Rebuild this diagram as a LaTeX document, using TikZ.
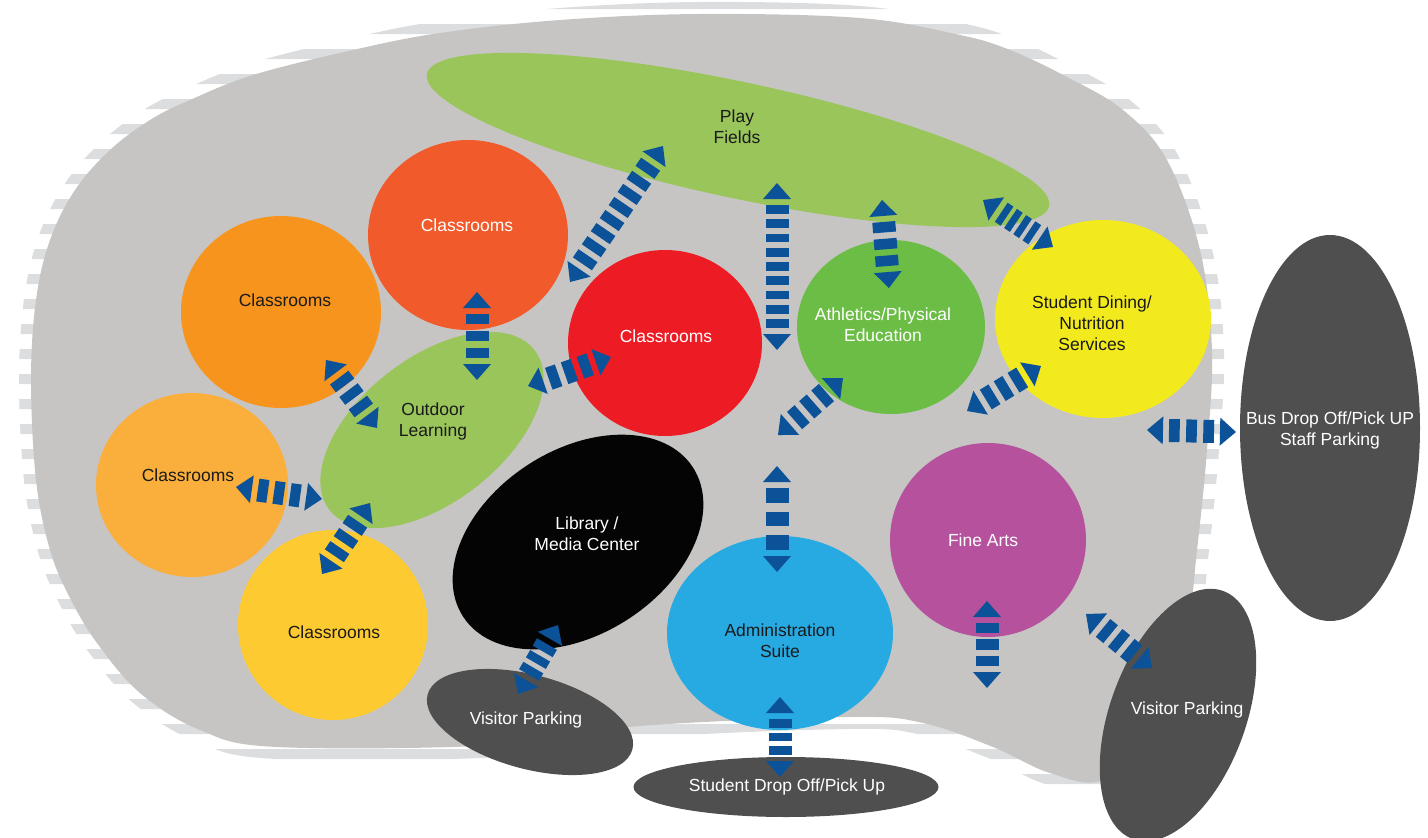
\documentclass[tikz,border=0pt]{standalone}
\usepackage{fontspec}
\setmainfont{Liberation Sans}
\usetikzlibrary{shapes.geometric,calc}
\definecolor{blobgray}{HTML}{C6C5C3}
\definecolor{shingle}{HTML}{DCDDDE}
\definecolor{fieldgreen}{HTML}{9AC55B}
\definecolor{corange}{HTML}{F7941D}
\definecolor{corangered}{HTML}{F15A2A}
\definecolor{cred}{HTML}{ED1C24}
\definecolor{clightorange}{HTML}{FAAF3C}
\definecolor{cyelloworange}{HTML}{FDCB31}
\definecolor{athgreen}{HTML}{6BBD45}
\definecolor{dinyellow}{HTML}{F2EA1D}
\definecolor{libblack}{HTML}{040404}
\definecolor{admblue}{HTML}{27AAE1}
\definecolor{fapurple}{HTML}{B5519D}
\definecolor{darkgray}{HTML}{4F4F4F}
\definecolor{arrowblue}{HTML}{0C5298}
\definecolor{txtdark}{HTML}{1A1A1A}
\tikzset{
  zone/.style={ellipse, inner sep=0pt, draw=none},
  lbl/.style={align=center, font=\fontsize{17.5}{21}\selectfont, inner sep=0pt},
  lblw/.style={lbl, text=white},
  lbld/.style={lbl, text=txtdark},
  barline/.style={draw=arrowblue, line width=23pt},
}
% double-headed dashed connector: #1 = number of bars, #2/#3 = end coordinates
\newcommand\dbarrow[3][3]{%
  \pgfpointdiff{\pgfpointanchor{#2}{center}}{\pgfpointanchor{#3}{center}}%
  \pgfgetlastxy{\dbx}{\dby}%
  \pgfmathsetmacro\dbbar{(veclen(\dbx,\dby)-44)/(#1+0.6*(#1-1))}%
  \pgfmathsetmacro\dbgap{0.6*\dbbar}%
  \fill[arrowblue] (#2) -- ($(#2)!16pt!(#3)!14pt!90:(#3)$) -- ($(#2)!16pt!(#3)!14pt!-90:(#3)$) -- cycle;
  \fill[arrowblue] (#3) -- ($(#3)!16pt!(#2)!14pt!90:(#2)$) -- ($(#3)!16pt!(#2)!14pt!-90:(#2)$) -- cycle;
  \draw[barline, dash pattern=on \dbbar pt off \dbgap pt] ($(#2)!22pt!(#3)$) -- ($(#3)!22pt!(#2)$);
}
\begin{document}
\begin{tikzpicture}[x=1pt,y=-1pt]
\useasboundingbox (0,0) rectangle (1428,838);
% campus blob with shingled rim
\def\blobpath{plot[smooth cycle, tension=0.6] coordinates {
  (353,50) (440,33) (560,20) (700,14) (860,18) (960,35) (1010,50) (1067,77)
  (1123,110) (1167,160) (1200,250) (1212,350) (1207,450) (1197,550) (1185,640)
  (1150,730) (1103,780) (1050,773) (993,747) (923,723) (850,717) (640,726)
  (500,745) (277,747) (200,730) (140,693) (97,643) (70,598) (50,550) (36,480)
  (31,380) (36,300) (50,240) (75,190) (110,150) (150,120) (190,100) (253,75)}}
\begin{scope}
  \clip \foreach \k in {-1,...,33} {(0,{24+25*\k}) rectangle (1428,{34+25*\k})};
  \draw[shingle, line width=24pt] \blobpath;
\end{scope}
\fill[blobgray] \blobpath;
% zones
\node[zone, fill=fieldgreen, minimum width=636pt, minimum height=116pt, rotate=-12] (pf) at (738,140) {};
\node[zone, fill=corange, minimum width=200pt, minimum height=192pt] (cor) at (281,312) {};
\node[zone, fill=corangered, minimum width=200pt, minimum height=190pt] (crd) at (468,235) {};
\node[zone, fill=cred, minimum width=194pt, minimum height=186pt] (cre) at (665,343) {};
\node[zone, fill=clightorange, minimum width=192pt, minimum height=184pt] (clo) at (192,485) {};
\node[zone, fill=cyelloworange, minimum width=190pt, minimum height=190pt] (cyl) at (333,625) {};
\node[zone, fill=fieldgreen, minimum width=260pt, minimum height=144pt, rotate=38] (ol) at (432,430) {};
\node[zone, fill=libblack, minimum width=274pt, minimum height=184pt, rotate=33] (lib) at (578,542) {};
\node[zone, fill=athgreen, minimum width=188pt, minimum height=174pt] (ath) at (891,327) {};
\node[zone, fill=dinyellow, minimum width=216pt, minimum height=198pt] (din) at (1103,319) {};
\node[zone, fill=admblue, minimum width=226pt, minimum height=194pt] (adm) at (780,633) {};
\node[zone, fill=fapurple, minimum width=196pt, minimum height=194pt] (fa) at (988,540) {};
\node[zone, fill=darkgray, minimum width=180pt, minimum height=386pt] (bus) at (1330,428) {};
\node[zone, fill=darkgray, minimum width=264pt, minimum height=136pt, rotate=70] (vpr) at (1178,715) {};
\node[zone, fill=darkgray, minimum width=212pt, minimum height=94pt, rotate=-15] (vpl) at (530,722) {};
\node[zone, fill=darkgray, minimum width=305pt, minimum height=60pt] (sdo) at (786,787) {};
% labels
\node[lbld] (tpf) at (737,127) {Play\\Fields};
\node[lbld] (tor) at (285,300) {Classrooms};
\node[lblw] (trd) at (467,225) {Classrooms};
\node[lblw] (tre) at (666,336) {Classrooms};
\node[lblw] (tath) at (883,325) {Athletics/Physical\\Education};
\node[lbld] (tdin) at (1092,323) {Student Dining/\\Nutrition\\Services};
\node[lbld] (tol) at (433,421) {Outdoor\\Learning};
\node[lbld] (tlo) at (188,475) {Classrooms};
\node[lblw] (tlib) at (587,534) {Library /\\Media Center};
\node[lbld] (tyl) at (334,632) {Classrooms};
\node[lblw] (tfa) at (983,540) {Fine Arts};
\node[lbld] (tadm) at (780,641) {Administration\\Suite};
\node[lblw] (tbus) at (1330,430) {Bus Drop Off/Pick UP\\Staff Parking};
\node[lblw] (tvpr) at (1187,710) {Visitor Parking};
\node[lblw] (tvpl) at (526,720) {Visitor Parking};
\node[lblw] (tsdo) at (787,787) {Student Drop Off/Pick Up};
% connector end points
\coordinate (a1s) at (663,146);  \coordinate (a1e) at (570,282);
\coordinate (a2s) at (777,183);  \coordinate (a2e) at (777,350);
\coordinate (a3s) at (882,200);  \coordinate (a3e) at (889,288);
\coordinate (a4s) at (983,200);  \coordinate (a4e) at (1053,247);
\coordinate (a5s) at (477,292);  \coordinate (a5e) at (477,380);
\coordinate (a6s) at (326,360);  \coordinate (a6e) at (377,428);
\coordinate (a7s) at (528,386);  \coordinate (a7e) at (611,357);
\coordinate (a8s) at (236,487);  \coordinate (a8e) at (322,499);
\coordinate (a9s) at (370,503);  \coordinate (a9e) at (322,574);
\coordinate (a10s) at (843,378); \coordinate (a10e) at (778,435);
\coordinate (a11s) at (777,466); \coordinate (a11e) at (777,572);
\coordinate (a12s) at (1041,366);\coordinate (a12e) at (967,411);
\coordinate (a13s) at (1147,430);\coordinate (a13e) at (1236,432);
\coordinate (a14s) at (558,625); \coordinate (a14e) at (518,694);
\coordinate (a15s) at (780,697); \coordinate (a15e) at (780,777);
\coordinate (a16s) at (987,601); \coordinate (a16e) at (987,688);
\coordinate (a17s) at (1086,614);\coordinate (a17e) at (1152,668);
% connectors
\dbarrow[8]{a1s}{a1e}
\dbarrow[9]{a2s}{a2e}
\dbarrow{a3s}{a3e}
\dbarrow[4]{a4s}{a4e}
\dbarrow{a5s}{a5e}
\dbarrow{a6s}{a6e}
\dbarrow{a7s}{a7e}
\dbarrow{a8s}{a8e}
\dbarrow{a9s}{a9e}
\dbarrow{a10s}{a10e}
\dbarrow{a11s}{a11e}
\dbarrow{a12s}{a12e}
\dbarrow{a13s}{a13e}
\dbarrow{a14s}{a14e}
\dbarrow{a15s}{a15e}
\dbarrow{a16s}{a16e}
\dbarrow{a17s}{a17e}
\end{tikzpicture}
\end{document}
